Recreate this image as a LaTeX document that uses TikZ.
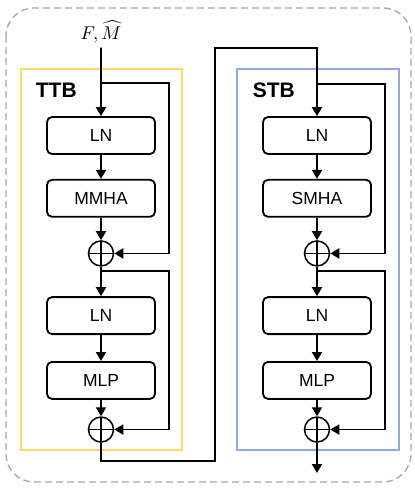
\documentclass[tikz,border=0pt]{standalone}
\usepackage{fontspec}
\setmainfont{Liberation Sans}
\usepackage{tikz}
\usetikzlibrary{arrows.meta,positioning}
\definecolor{ttbyellow}{HTML}{FFD966}
\definecolor{stbblue}{HTML}{8FAADC}
\definecolor{framegray}{HTML}{A6A6A6}

\begin{document}
\begin{tikzpicture}[x=1pt, y=-1pt, >={Triangle[length=9pt, width=10pt]},
                    line width=1.8pt]
    \tikzstyle{layer}=[draw, rounded corners=5pt, minimum width=108pt,
                       minimum height=37pt, inner sep=0pt,
                       font=\fontsize{17.5}{20}\selectfont]
    \tikzstyle{adder}=[circle, draw, line width=1.5pt, minimum size=25pt,
                       inner sep=0pt,
                       path picture={\draw[line width=1.3pt]
                         (path picture bounding box.north) -- (path picture bounding box.south)
                         (path picture bounding box.west) -- (path picture bounding box.east);}]
    \tikzstyle{blockname}=[anchor=west, inner sep=0pt,
                           font=\fontsize{21}{24}\selectfont\bfseries]

    \useasboundingbox (0,0) rectangle (415,488);
    \draw[framegray, line width=1.3pt, dash pattern=on 7pt off 4pt,
          rounded corners=28pt] (6,8) rectangle (411,482);
    \draw[ttbyellow, line width=1.5pt] (21,69) rectangle (182,450);
    \draw[stbblue, line width=1.5pt] (237,69) rectangle (399,450);
    \node[blockname] (ttb) at (35,90) {TTB};
    \node[blockname] (stb) at (252,90) {STB};

    % temporal block
    \node[scale=1.85, inner sep=1.5pt] (inp) at (101,32) {$F,\widehat{M}$};
    \node[layer] (ln1a) at (101,135.5)          {LN};
    \node[layer] (mmha) [below=24pt of ln1a]    {MMHA};
    \node[adder] (add1a) [below=22.5pt of mmha] {};
    \node[layer] (ln2a) [below=29.5pt of add1a] {LN};
    \node[layer] (mlpa) [below=26pt of ln2a]    {MLP};
    \node[adder] (add2a) [below=16.5pt of mlpa] {};

    % spatial block
    \node[layer] (ln1b) at (317,135.5)          {LN};
    \node[layer] (smha) [below=24pt of ln1b]    {SMHA};
    \node[adder] (add1b) [below=22.5pt of smha] {};
    \node[layer] (ln2b) [below=29.5pt of add1b] {LN};
    \node[layer] (mlpb) [below=26pt of ln2b]    {MLP};
    \node[adder] (add2b) [below=16.5pt of mlpb] {};

    \coordinate (br1a) at (101,83);
    \coordinate (br2a) at (101,271);
    \coordinate (br1b) at (317,84);
    \coordinate (br2b) at (317,271);
    \coordinate (sidea) at (169,0);
    \coordinate (sideb) at (385,0);
    \coordinate (low) at (0,461);
    \coordinate (high) at (0,48);
    \coordinate (mid) at (215,0);
    \coordinate (out) at (317,473);

    \draw[->] (inp) -- (ln1a);
    \draw[->] (ln1a) -- (mmha);
    \draw[->] (mmha) -- (add1a);
    \draw[->] (add1a) -- (ln2a);
    \draw[->] (ln2a) -- (mlpa);
    \draw[->] (mlpa) -- (add2a);
    \draw[->] (br1a) -| (sidea |- add1a) -- (add1a);
    \draw[->] (br2a) -| (sidea |- add2a) -- (add2a);

    \draw[->] (add2a) |- (mid |- low) |- (ln1b |- high) -- (ln1b);

    \draw[->] (ln1b) -- (smha);
    \draw[->] (smha) -- (add1b);
    \draw[->] (add1b) -- (ln2b);
    \draw[->] (ln2b) -- (mlpb);
    \draw[->] (mlpb) -- (add2b);
    \draw[->] (br1b) -| (sideb |- add1b) -- (add1b);
    \draw[->] (br2b) -| (sideb |- add2b) -- (add2b);
    \draw[->] (add2b) -- (out);
\end{tikzpicture}
\end{document}
